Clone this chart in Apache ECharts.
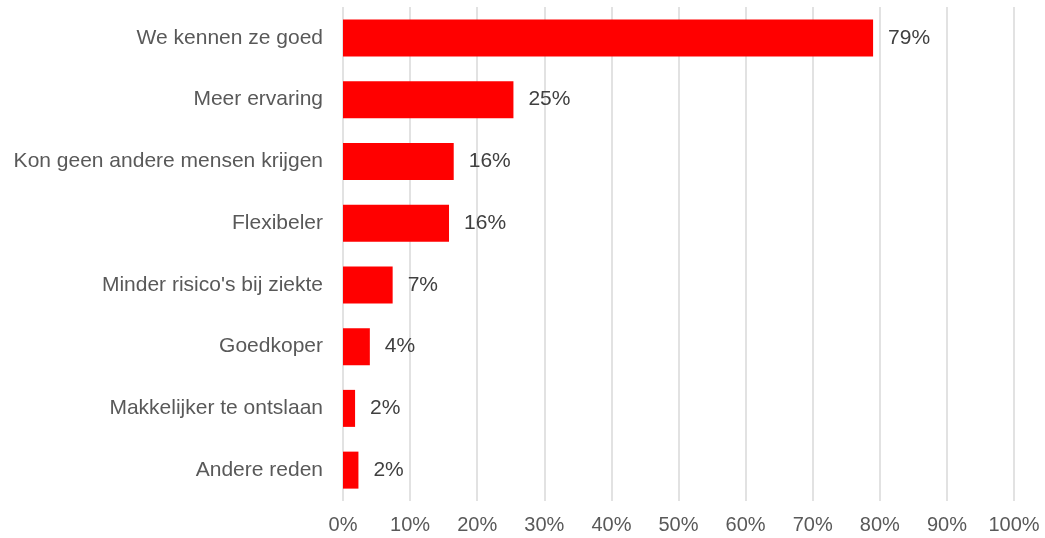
<!DOCTYPE html>
<html>
<head>
<meta charset="utf-8">
<script src="https://cdn.jsdelivr.net/npm/echarts@6/dist/echarts.min.js"></script>
<style>html,body{margin:0;padding:0;background:#fff;}#c{width:1045px;height:538px;}</style>
</head>
<body>
<div id="c"></div>
<script>
const categories = ["We kennen ze goed","Meer ervaring","Kon geen andere mensen krijgen","Flexibeler","Minder risico's bij ziekte","Goedkoper","Makkelijker te ontslaan","Andere reden"];
const values = [79, 25.4, 16.5, 15.8, 7.4, 4.0, 1.8, 2.3];
const valueLabels = ["79%","25%","16%","16%","7%","4%","2%","2%"];
const xTicks = [0,10,20,30,40,50,60,70,80,90,100];

const chart = echarts.init(document.getElementById('c'), null, {renderer:'canvas'});
chart.setOption({
  animation:false,
  backgroundColor:'#ffffff',
  grid:{left:343, right:31, top:7, bottom:37, containLabel:false},
  xAxis:{
    type:'value', min:xTicks[0], max:xTicks[xTicks.length-1], interval:10,
    axisLine:{show:false}, axisTick:{show:false},
    splitLine:{show:true, lineStyle:{color:'#d9d9d9', width:1.5}},
    axisLabel:{formatter:v=>v+'%', color:'#595959', fontSize:20, fontFamily:'Liberation Sans, Arial, sans-serif', margin:14}
  },
  yAxis:{
    type:'category', data:categories, inverse:true,
    axisLine:{show:false}, axisTick:{show:false},
    axisLabel:{color:'#595959', fontSize:21, fontFamily:'Liberation Sans, Arial, sans-serif', margin:20}
  },
  series:[{
    type:'bar', data:values, barWidth:37,
    itemStyle:{color:'#ff0000'},
    label:{show:true, position:'right', distance:15, color:'#404040', fontSize:21,
      fontFamily:'Liberation Sans, Arial, sans-serif',
      formatter:p=>valueLabels[p.dataIndex]}
  }]
});
</script>
</body>
</html>
